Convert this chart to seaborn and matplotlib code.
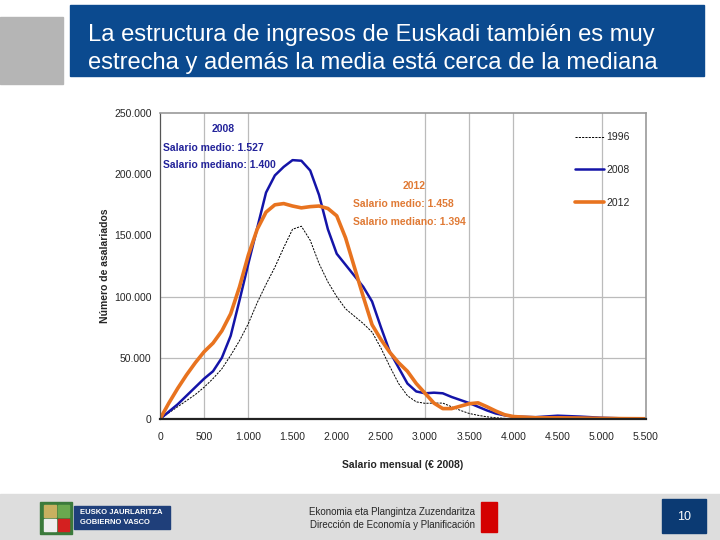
import numpy as np
import pandas as pd
import matplotlib
matplotlib.use("Agg")
import matplotlib.pyplot as plt
from matplotlib.patches import Rectangle
from matplotlib.ticker import FuncFormatter
import seaborn as sns

# ── Data (thousands of wage earners per monthly wage level) ──
salario = list(range(0, 4001, 100)) + [4250, 4500, 4750, 5000, 5250, 5500]

asal_1996 = [0, 5, 10, 15, 20, 26, 33, 41, 52, 64, 78, 95, 110, 124, 140, 155, 157.5, 146,
             127, 112, 100, 90, 84, 78, 71, 58, 43, 29, 19, 14, 12.8, 13, 13, 10, 7, 4.5,
             3, 1.8, 1, 0.5, 0.3, 0.2, 0.2, 0.2, 0.2, 0.2, 0.2]
asal_2008 = [0, 6, 12, 19, 26, 33, 39, 50, 68, 97, 127, 156, 185, 199, 206, 211.5, 211, 203,
             183, 155, 135, 126, 117, 108, 96, 75, 55, 42, 29, 22.5, 21, 21.5, 21, 18, 15.5,
             13, 10, 7, 4.5, 3, 2, 1.5, 2.7, 2, 1, 0.5, 0.3]
asal_2012 = [0, 13, 25, 36, 46, 55, 62, 72, 86, 108, 134, 155, 169, 175, 176, 174, 172.5,
             173.5, 174, 172, 166, 148, 124, 100, 77, 65, 54.5, 46, 39, 29, 21, 13, 8.5, 8.5,
             10.5, 12.5, 13.2, 10, 6.5, 3.5, 2, 1, 1, 0.8, 0.5, 0.3, 0.2]

df = pd.DataFrame({
    "salario": salario * 3,
    "asalariados": np.array(asal_1996 + asal_2008 + asal_2012) * 1000,
    "serie": ["1996"] * len(salario) + ["2008"] * len(salario) + ["2012"] * len(salario),
})

titulo = "La estructura de ingresos de Euskadi también es muy\nestrecha y además la media está cerca de la mediana"
x_ticks = list(range(0, 5501, 500))
y_ticks = list(range(0, 250001, 50000))

C_BLUE = "#1414a8"
C_ORANGE = "#e8731f"
C_TXT_BLUE = "#23239a"
C_TXT_ORANGE = "#e07a35"

sns.set_style("white")
plt.rcParams["font.family"] = ["Liberation Sans", "DejaVu Sans"]

fig = plt.figure(figsize=(7.2, 5.4), dpi=100)

# ── Slide background (pixel coords) ───────────────────────
bg = fig.add_axes([0, 0, 1, 1], zorder=0)
bg.set_xlim(0, 720)
bg.set_ylim(540, 0)
bg.axis("off")
bg.add_patch(Rectangle((0, 17), 63, 67, color="#b5b5b5"))
bg.add_patch(Rectangle((70, 5), 634, 71, color="#0b4a8f"))
bg.text(88, 49, titulo, color="white", fontsize=17.1, va="center", ha="left",
        linespacing=1.33)

bg.add_patch(Rectangle((0, 494), 720, 46, color="#dddddd"))
# logo
bg.add_patch(Rectangle((40, 502), 32, 32, color="#3b7a3b"))
bg.add_patch(Rectangle((44, 505), 12, 12, color="#c8b060"))
bg.add_patch(Rectangle((58, 505), 11, 12, color="#6aa84f"))
bg.add_patch(Rectangle((44, 519), 12, 12, color="#eeeeee"))
bg.add_patch(Rectangle((58, 519), 11, 12, color="#d42020"))
bg.add_patch(Rectangle((74, 506), 96, 23, color="#1f3f7a"))
bg.text(80, 512, "EUSKO JAURLARITZA", color="white", fontsize=5.5, weight="bold", va="center")
bg.text(80, 523, "GOBIERNO VASCO", color="white", fontsize=5.5, weight="bold", va="center")
bg.text(475, 512, "Ekonomia eta Plangintza Zuzendaritza", fontsize=7, ha="right", va="center")
bg.text(475, 525, "Dirección de Economía y Planificación", fontsize=7, ha="right", va="center")
bg.add_patch(Rectangle((481, 502), 16, 30, color="#d40000"))
bg.add_patch(Rectangle((662, 499), 44, 34, color="#0b3a73"))
bg.text(684, 517, "10", color="white", fontsize=9, ha="center", va="center")

# ── Chart ─────────────────────────────────────────────────
ax = fig.add_axes([160 / 720, 121 / 540, 486 / 720, 306 / 540], zorder=1)
sns.lineplot(data=df[df.serie == "1996"], x="salario", y="asalariados", ax=ax,
             color="black", lw=0.7, label="1996").lines[-1].set_dashes([2.2, 1.2])
sns.lineplot(data=df[df.serie == "2008"], x="salario", y="asalariados", ax=ax,
             color=C_BLUE, lw=1.8, label="2008")
sns.lineplot(data=df[df.serie == "2012"], x="salario", y="asalariados", ax=ax,
             color=C_ORANGE, lw=2.6, label="2012")
for ln in ax.lines:
    ln.set_solid_joinstyle("round")
    ln.set_dash_joinstyle("round")

ax.set_xlim(0, 5500)
ax.set_ylim(0, 250000)
ax.set_xticks(x_ticks)
ax.set_yticks(y_ticks)
fmt = FuncFormatter(lambda v, p: f"{int(v):,}".replace(",", "."))
ax.xaxis.set_major_formatter(fmt)
ax.yaxis.set_major_formatter(fmt)
ax.tick_params(axis="both", labelsize=7.5, length=3, width=0.8, color="#444444", pad=3)
ax.tick_params(axis="x", pad=6)

# gridlines as in the original (only some positions)
for gx in [500, 1000, 3000, 3500, 4000, 5000]:
    ax.axvline(gx, color="#bbbbbb", lw=0.9, zorder=0)
for gy in [50000, 100000]:
    ax.axhline(gy, color="#bbbbbb", lw=0.9, zorder=0)

for s in ["top", "right"]:
    ax.spines[s].set_color("#999999")
    ax.spines[s].set_linewidth(1.2)
ax.spines["left"].set_color("#555555")
ax.spines["left"].set_linewidth(0.9)
ax.spines["bottom"].set_color("#222222")
ax.spines["bottom"].set_linewidth(1.6)

ax.set_xlabel("Salario mensual (€ 2008)", fontsize=7.5, weight="bold", labelpad=13)
ax.set_ylabel("Número de asalariados", fontsize=7.5, weight="bold", labelpad=3)

# annotations
ax.text(713, 237000, "2008", color=C_TXT_BLUE, fontsize=7.5, weight="bold", ha="center", va="center")
ax.text(34, 221500, "Salario medio: 1.527", color=C_TXT_BLUE, fontsize=7.5, weight="bold", va="center")
ax.text(34, 207500, "Salario mediano: 1.400", color=C_TXT_BLUE, fontsize=7.5, weight="bold", va="center")
ax.text(2875, 190500, "2012", color=C_TXT_ORANGE, fontsize=7.5, weight="bold", ha="center", va="center")
ax.text(2184, 175700, "Salario medio: 1.458", color=C_TXT_ORANGE, fontsize=7.5, weight="bold", va="center")
ax.text(2184, 161000, "Salario mediano: 1.394", color=C_TXT_ORANGE, fontsize=7.5, weight="bold", va="center")

leg = ax.legend(loc="upper right", bbox_to_anchor=(0.985, 0.968), frameon=False, fontsize=7.5,
                handlelength=2.8, handletextpad=0.2, labelspacing=2.2)
leg.get_lines()[0].set_dashes([2.2, 1.2])

fig.savefig("out.png", dpi=100)
